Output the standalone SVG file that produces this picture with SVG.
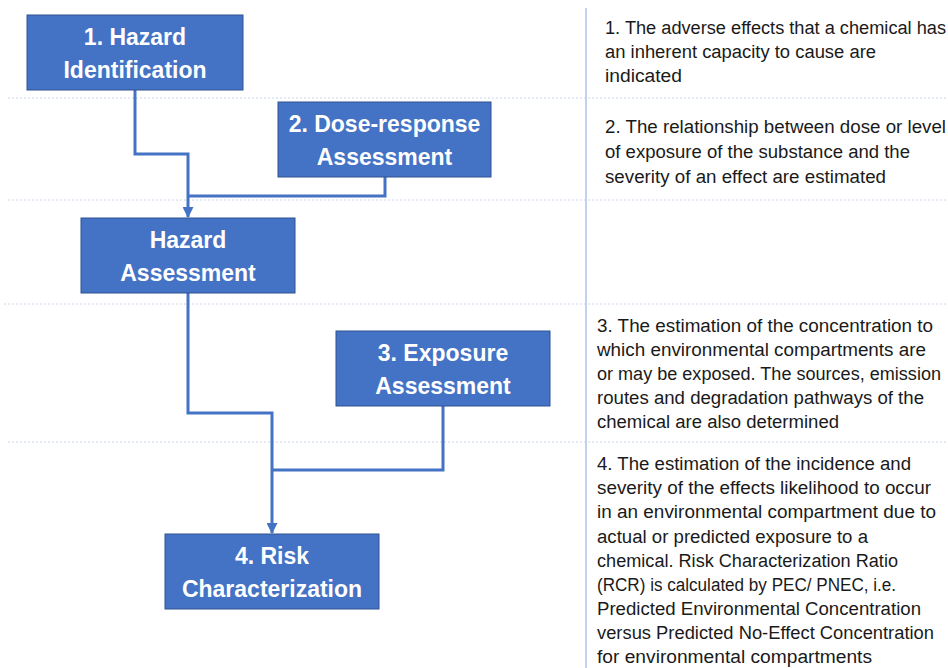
<svg xmlns="http://www.w3.org/2000/svg" width="948" height="668" viewBox="0 0 948 668">
<defs>
<style>
.box{fill:#4472C4;stroke:#2F528F;stroke-width:1}
.lbl{font-family:"Liberation Sans",Arial,sans-serif;font-weight:bold;font-size:23px;fill:#FFFFFF;text-anchor:middle}
.desc{font-family:"Liberation Sans",Arial,sans-serif;font-size:18px;fill:#1A1A1A}
.conn{fill:none;stroke:#4472C4;stroke-width:3}
.grid{stroke:#C9D5EC;stroke-width:1;stroke-dasharray:2 2;fill:none}
.sep{stroke:#C3D1EC;stroke-width:2;fill:none}
</style>
<marker id="arr" markerWidth="11" markerHeight="11" refX="10" refY="5.5" orient="auto" markerUnits="userSpaceOnUse" viewBox="0 0 11 11">
<path d="M0,0 L11,5.5 L0,11 Z" fill="#4472C4"/>
</marker>
</defs>
<rect width="948" height="668" fill="#FFFFFF"/>
<g id="guides">
<line class="grid" x1="8" y1="98" x2="948" y2="98"/>
<line class="grid" x1="8" y1="200" x2="948" y2="200"/>
<line class="grid" x1="4" y1="304" x2="948" y2="304"/>
<line class="grid" x1="8" y1="442" x2="948" y2="442"/>
<line class="sep" x1="586" y1="8" x2="586" y2="668"/>
</g>
<g id="connectors">
<path class="conn" d="M135,90 V154 H188 V217" marker-end="url(#arr)"/>
<path class="conn" d="M385,177 V196 H188"/>
<path class="conn" d="M188,293 V413 H272 V533" marker-end="url(#arr)"/>
<path class="conn" d="M443,406 V470 H272"/>
</g>
<g id="node1">
<rect class="box" x="27" y="15" width="216" height="75"/>
<text class="lbl" x="135" y="45">1. Hazard</text>
<text class="lbl" x="135" y="77.5">Identification</text>
</g>
<g id="node2">
<rect class="box" x="278" y="102" width="213" height="75"/>
<text class="lbl" x="384.5" y="132">2. Dose-response</text>
<text class="lbl" x="384.5" y="165">Assessment</text>
</g>
<g id="node-hazard-assessment">
<rect class="box" x="81" y="218" width="214" height="75"/>
<text class="lbl" x="188" y="248">Hazard</text>
<text class="lbl" x="188" y="281">Assessment</text>
</g>
<g id="node3">
<rect class="box" x="336" y="331" width="214" height="75"/>
<text class="lbl" x="443" y="361">3. Exposure</text>
<text class="lbl" x="443" y="394">Assessment</text>
</g>
<g id="node4">
<rect class="box" x="165" y="534" width="214" height="75"/>
<text class="lbl" x="272" y="564">4. Risk</text>
<text class="lbl" x="272" y="597">Characterization</text>
</g>
<g id="descriptions">
<text class="desc" x="605" y="34" textLength="341" lengthAdjust="spacingAndGlyphs">1. The adverse effects that a chemical has</text>
<text class="desc" x="605" y="58" textLength="271" lengthAdjust="spacingAndGlyphs">an inherent capacity to cause are</text>
<text class="desc" x="605" y="82" textLength="77" lengthAdjust="spacingAndGlyphs">indicated</text>
<text class="desc" x="605" y="133" textLength="341" lengthAdjust="spacingAndGlyphs">2. The relationship between dose or level</text>
<text class="desc" x="605" y="158" textLength="305" lengthAdjust="spacingAndGlyphs">of exposure of the substance and the</text>
<text class="desc" x="605" y="183" textLength="281" lengthAdjust="spacingAndGlyphs">severity of an effect are estimated</text>
<text class="desc" x="597" y="332" textLength="336" lengthAdjust="spacingAndGlyphs">3. The estimation of the concentration to</text>
<text class="desc" x="597" y="356" textLength="329" lengthAdjust="spacingAndGlyphs">which environmental compartments are</text>
<text class="desc" x="597" y="380" textLength="344" lengthAdjust="spacingAndGlyphs">or may be exposed. The sources, emission</text>
<text class="desc" x="597" y="404" textLength="327" lengthAdjust="spacingAndGlyphs">routes and degradation pathways of the</text>
<text class="desc" x="597" y="428" textLength="242" lengthAdjust="spacingAndGlyphs">chemical are also determined</text>
<text class="desc" x="597" y="470" textLength="314" lengthAdjust="spacingAndGlyphs">4. The estimation of the incidence and</text>
<text class="desc" x="597" y="494" textLength="334" lengthAdjust="spacingAndGlyphs">severity of the effects likelihood to occur</text>
<text class="desc" x="597" y="518" textLength="339" lengthAdjust="spacingAndGlyphs">in an environmental compartment due to</text>
<text class="desc" x="597" y="543" textLength="271" lengthAdjust="spacingAndGlyphs">actual or predicted exposure to a</text>
<text class="desc" x="597" y="567" textLength="301" lengthAdjust="spacingAndGlyphs">chemical. Risk Characterization Ratio</text>
<text class="desc" x="597" y="591" textLength="299" lengthAdjust="spacingAndGlyphs">(RCR) is calculated by PEC/ PNEC, i.e.</text>
<text class="desc" x="597" y="615" textLength="324" lengthAdjust="spacingAndGlyphs">Predicted Environmental Concentration</text>
<text class="desc" x="597" y="639" textLength="337" lengthAdjust="spacingAndGlyphs">versus Predicted No-Effect Concentration</text>
<text class="desc" x="597" y="663" textLength="275" lengthAdjust="spacingAndGlyphs">for environmental compartments</text>
</g>
</svg>
